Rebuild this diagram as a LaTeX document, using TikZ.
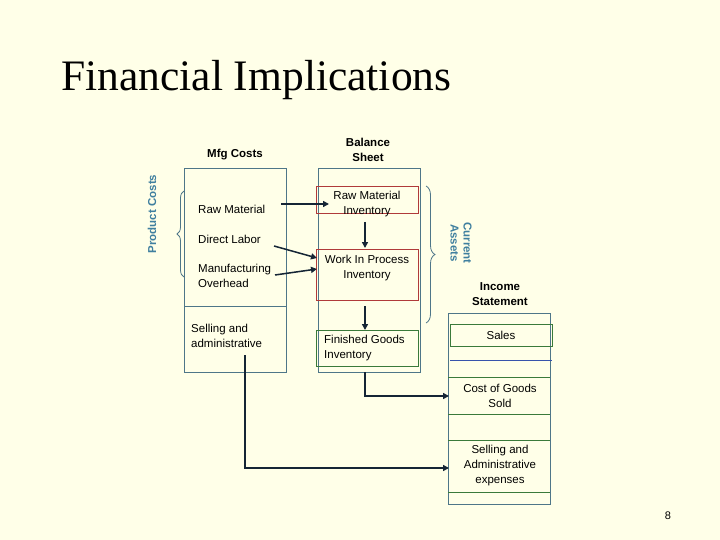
\documentclass[tikz,border=0pt]{standalone}
\usepackage{fontspec}
\setmainfont{Liberation Serif}
\newfontfamily\sans{Liberation Sans}
\usetikzlibrary{decorations.pathreplacing,arrows.meta}
\definecolor{bg}{HTML}{FFFFE8}
\definecolor{frame}{HTML}{4E7688}
\definecolor{redb}{HTML}{B03A3A}
\definecolor{greenb}{HTML}{3A7A3A}
\definecolor{teal}{HTML}{3F7F9F}
\definecolor{navy}{HTML}{152535}
\begin{document}
\begin{tikzpicture}[x=1pt,y=-1pt,
  txt/.style={font=\sans\fontsize{11.5}{15}\selectfont, text=black, inner sep=0pt, align=left},
  ctxt/.style={txt, align=center},
  hdr/.style={font=\sans\bfseries\fontsize{11.5}{15}\selectfont, align=center, inner sep=0pt},
  arr/.style={navy, line width=1.5pt, -{Triangle[length=6pt,width=6pt]}},
  colbox/.style={draw=frame, line width=0.6pt}]
\fill[bg] (0,0) rectangle (720,540);
\useasboundingbox (0,0) rectangle (720,540);
\node[font=\fontsize{43.5}{48}\selectfont, anchor=west, inner sep=0pt] (title) at (61,80) {Financial Implications};
% columns
\draw[colbox] (184,168) rectangle (286,372);
\draw[colbox] (184,306) -- (286,306);
\draw[colbox] (318,168) rectangle (420,372);
\draw[colbox] (448,313) rectangle (550,504);
\draw[frame!70!blue] (450,360) -- (552,360);
% inner boxes
\draw[redb, line width=0.6pt] (316,186) rectangle (418,213);
\draw[redb, line width=0.6pt] (316,249) rectangle (418,300);
\draw[greenb, line width=0.6pt] (316,330) rectangle (418,366);
\draw[greenb, line width=0.6pt] (450,324) rectangle (552,346);
\draw[greenb, line width=0.6pt] (448,377) -- (550,377) (448,414) -- (550,414);
\draw[greenb, line width=0.6pt] (448,440) -- (550,440) (448,492) -- (550,492);
\node[ctxt] (rmi) at (367,204) {Raw Material\\Inventory};
\node[ctxt] (wip) at (367,268) {Work In Process\\Inventory};
\node[txt, anchor=west] (fgi) at (324,348) {Finished Goods\\Inventory};
\node[ctxt] (sales) at (501,335) {Sales};
\node[ctxt] (cogs) at (500,396) {Cost of Goods\\Sold};
\node[ctxt] (sae) at (500,466) {Selling and\\Administrative\\expenses};
\node[txt, anchor=west] (rm) at (198,209) {Raw Material};
\node[txt, anchor=west] (dl) at (198,239) {Direct Labor};
\node[txt, anchor=west] (mo) at (198,276) {Manufacturing\\Overhead};
\node[txt, anchor=west] (sa) at (191,336) {Selling and\\administrative};
% headers
\node[hdr] (h1) at (235,155) {Mfg Costs};
\node[hdr] (h2) at (368,150) {Balance\\Sheet};
\node[hdr] (h3) at (500,294) {Income\\Statement};
% braces
\draw[frame, line width=0.8pt, decorate, decoration={brace, amplitude=7pt}] (184,277) -- (184,191);
\node[font=\sans\bfseries\fontsize{11.5}{13}\selectfont, text=teal, rotate=90] (pc) at (152,214) {Product Costs};
\draw[frame, line width=0.8pt, decorate, decoration={brace, amplitude=9pt}] (426,186) -- (426,323);
\node[font=\sans\bfseries\fontsize{11.5}{13}\selectfont, text=teal, rotate=-90, align=center] (ca) at (461,243) {Current\\Assets};
% arrows
\coordinate (a1) at (281,204); \coordinate (b1) at (329,204);
\draw[arr] (a1) -- (b1);
\coordinate (a2) at (274,246); \coordinate (b2) at (317,258);
\draw[arr] (a2) -- (b2);
\coordinate (a3) at (275,275); \coordinate (b3) at (317,269);
\draw[arr] (a3) -- (b3);
\coordinate (a4) at (365,222); \coordinate (b4) at (365,248);
\draw[arr] (a4) -- (b4);
\coordinate (a5) at (365,306); \coordinate (b5) at (365,330);
\draw[arr] (a5) -- (b5);
\coordinate (a6) at (365,372); \coordinate (b6) at (449,396);
\draw[arr] (a6) |- (b6);
\coordinate (a7) at (245,355); \coordinate (b7) at (449,468);
\draw[arr] (a7) |- (b7);
\node[font=\sans\fontsize{11}{12}\selectfont] (pg) at (668,516) {8};
\end{tikzpicture}
\end{document}
